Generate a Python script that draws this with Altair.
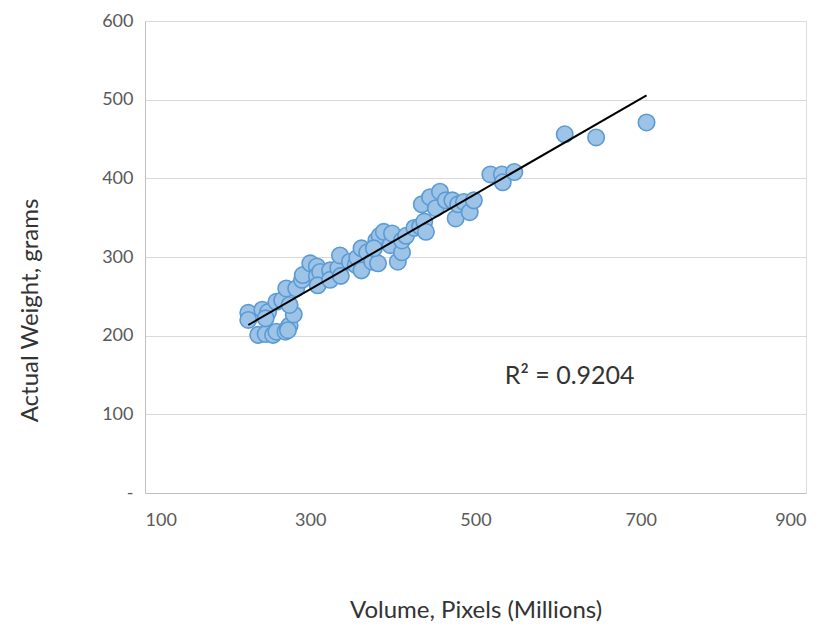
import altair as alt
import pandas as pd

volume = [225, 225, 242, 237, 246, 255, 259, 270, 273, 275, 273, 280, 249, 246, 259, 266,
          275, 271, 283, 290, 291, 300, 308, 308, 312, 309, 324, 324, 334, 336, 337, 348,
          355, 357, 362, 362, 369, 375, 380, 384, 389, 382, 377, 397, 399, 406, 411, 411,
          416, 426, 433, 435, 438, 440, 445, 452, 457, 464, 472, 476, 479, 486, 493, 498,
          518, 532, 533, 547, 608, 646, 707]
weight = [229, 220, 233, 201, 202, 201, 205, 205, 210, 213, 207, 227, 230, 222, 243, 245,
          239, 260, 260, 271, 277, 292, 288, 276, 281, 264, 283, 271, 286, 302, 276, 294,
          290, 299, 311, 283, 306, 294, 321, 327, 332, 292, 311, 315, 330, 294, 306, 321,
          327, 337, 339, 367, 345, 332, 376, 362, 383, 372, 372, 349, 367, 370, 357, 372,
          405, 405, 395, 408, 456, 452, 471]
r2_label = ["R² = 0.9204"]
r2_pos_x = [614]
r2_pos_y = [149]

df = pd.DataFrame({"volume": volume, "weight": weight})
lab = pd.DataFrame({"x": r2_pos_x, "y": r2_pos_y, "t": r2_label})

FONT = "Lato"

xscale = alt.Scale(domain=[100, 900], nice=False)
yscale = alt.Scale(domain=[0, 600], nice=False)

xaxis = alt.Axis(title="Volume, Pixels (Millions)", values=[100, 300, 500, 700, 900],
                 grid=False, ticks=False, domainColor="#bfbfbf", labelColor="#595959",
                 labelFontSize=18, labelPadding=18, titleFontSize=24, titleColor="#333333",
                 titleFontWeight="normal", titleY=117, titleBaseline="middle",
                 labelFont=FONT, titleFont=FONT)
yaxis = alt.Axis(title="Actual Weight, grams", values=[0, 100, 200, 300, 400, 500, 600],
                 labelExpr="datum.value == 0 ? '-' : datum.label",
                 grid=True, gridColor="#d9d9d9", ticks=False, domainColor="#bfbfbf",
                 labelColor="#595959", labelFontSize=18, labelPadding=12,
                 titleFontSize=24, titleColor="#333333", titleFontWeight="normal",
                 titleX=-115, titleY=289, titleAngle=270, titleAlign="center",
                 titleBaseline="middle", labelFont=FONT, titleFont=FONT)

pts = alt.Chart(df).mark_circle(size=270, opacity=1, fill="#9DC3E6", stroke="#5B9BD5",
                                strokeWidth=1.6).encode(
    x=alt.X("volume:Q", scale=xscale, axis=xaxis),
    y=alt.Y("weight:Q", scale=yscale, axis=yaxis),
)

line = alt.Chart(df).transform_regression("volume", "weight").mark_line(
    color="black", strokeWidth=2).encode(
    x=alt.X("volume:Q", scale=xscale),
    y=alt.Y("weight:Q", scale=yscale),
)

txt = alt.Chart(lab).mark_text(fontSize=25, font=FONT, color="#333333").encode(
    x=alt.X("x:Q", scale=xscale),
    y=alt.Y("y:Q", scale=yscale),
    text="t:N",
)

chart = alt.layer(pts, line, txt).properties(
    width=661, height=472,
    autosize=alt.AutoSizeParams(type="none"),
    padding={"left": 137, "top": 13, "right": 13, "bottom": 133},
).configure_view(stroke=None).configure(background="white")

chart.save("out.html", embed_options={"renderer": "svg", "actions": False})
